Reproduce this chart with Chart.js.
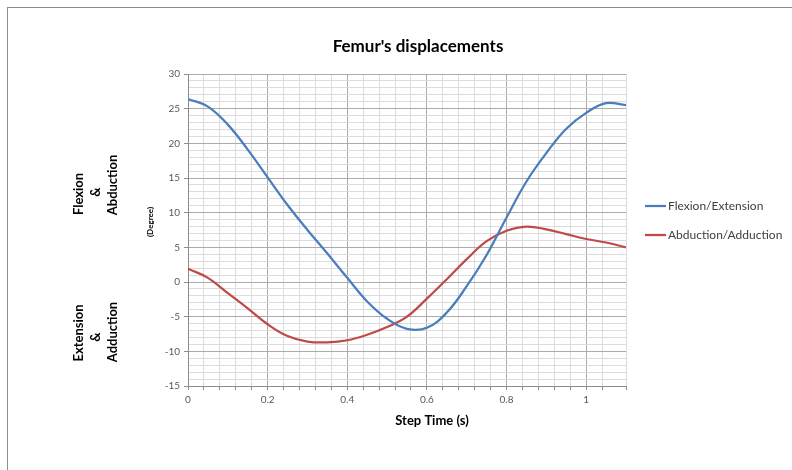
<!DOCTYPE html>
<html>
<head>
<meta charset="utf-8">
<script src="https://cdn.jsdelivr.net/npm/chart.js@4"></script>
<style>
  body { margin: 0; background: #fff; }
  #wrap { position: relative; width: 792px; height: 470px; overflow: hidden; }
  #frame { position: absolute; left: 7px; top: 7px; width: 900px; height: 600px;
           border-left: 1px solid #8c8c8c; border-top: 1px solid #8c8c8c; }
</style>
</head>
<body>
<div id="wrap">
  <div id="frame"></div>
  <canvas id="grafico" width="792" height="470"></canvas>
</div>
<script>
// step time (s)
const stepTime = [0, 0.05, 0.1, 0.15, 0.2, 0.25, 0.3, 0.35, 0.4, 0.45, 0.5, 0.55,
  0.6, 0.65, 0.7, 0.75, 0.8, 0.85, 0.9, 0.95, 1.0, 1.05, 1.1];
// degrees
const flexionExtension = [26.4, 25.3, 22.7, 19.1, 15.1, 11.1, 7.5, 4.1, 0.6, -2.8, -5.3, -6.75,
  -6.6, -4.4, -0.6, 3.9, 9.3, 14.5, 18.6, 22.1, 24.4, 25.8, 25.5];
const abductionAdduction = [1.9, 0.6, -1.6, -3.8, -6.1, -7.8, -8.6, -8.7, -8.4, -7.6, -6.5, -5.0,
  -2.4, 0.4, 3.3, 5.9, 7.4, 8.0, 7.6, 6.9, 6.2, 5.7, 5.0];

const seriesNames = ["Flexion/Extension", "Abduction/Adduction"];
const xTickLabels = ["0", "0.2", "0.4", "0.6", "0.8", "1"];
const yTickLabels = ["-15", "-10", "-5", "0", "5", "10", "15", "20", "25", "30"];

const FONT = "Lato, 'Open Sans', sans-serif";
const majorGrid = "#ababab";
const minorGrid = "#dcdcdc";

function isMult(v, step) {
  return Math.abs(v / step - Math.round(v / step)) < 1e-6;
}

// texts drawn around the plot
const textos = {
  id: "textos",
  afterDraw(chart) {
    const c = chart.ctx;
    c.save();
    c.fillStyle = "#000";
    c.textAlign = "center";
    c.textBaseline = "middle";
    c.font = "bold 17px " + FONT;
    c.fillText("Femur's displacements", 418, 47);
    c.font = "bold 13px " + FONT;
    c.fillText("Step Time (s)", 432, 421);

    const rot = (txt, x, y, font) => {
      c.save();
      c.translate(x, y);
      c.rotate(-Math.PI / 2);
      c.font = font;
      c.fillText(txt, 0, 0);
      c.restore();
    };
    const f = "bold 13px " + FONT;
    rot("Flexion", 79, 194, f);
    rot("&", 96, 192, f);
    rot("Abduction", 113, 185, f);
    rot("Extension", 79, 333, f);
    rot("&", 96, 337, f);
    rot("Adduction", 113, 332, f);
    rot("(Degree)", 150, 222, "bold 8px " + FONT);

    // legend
    const ly = [206, 235];
    chart.data.datasets.forEach((ds, i) => {
      c.strokeStyle = ds.borderColor;
      c.lineWidth = 2.25;
      c.beginPath();
      c.moveTo(645, ly[i]);
      c.lineTo(666, ly[i]);
      c.stroke();
      c.fillStyle = "#404040";
      c.textAlign = "left";
      c.font = "12px " + FONT;
      c.fillText(ds.label, 668, ly[i]);
    });
    c.restore();
  }
};

const ctx = document.getElementById("grafico").getContext("2d");
const chart = new Chart(ctx, {
  type: "line",
  data: {
    datasets: [
      {
        label: seriesNames[0],
        data: stepTime.map((t, i) => ({ x: t, y: flexionExtension[i] })),
        borderColor: "#4a7ebb",
        borderWidth: 2.25,
        pointRadius: 0,
        tension: 0.4,
        fill: false
      },
      {
        label: seriesNames[1],
        data: stepTime.map((t, i) => ({ x: t, y: abductionAdduction[i] })),
        borderColor: "#be4b48",
        borderWidth: 2.25,
        pointRadius: 0,
        tension: 0.4,
        fill: false
      }
    ]
  },
  options: {
    responsive: false,
    animation: false,
    layout: { padding: { left: 148, right: 166, top: 74, bottom: 54 } },
    plugins: {
      legend: { display: false },
      title: { display: false },
      tooltip: { enabled: false }
    },
    scales: {
      x: {
        type: "linear",
        min: 0,
        max: 1.1,
        afterFit: s => { s.height = 30; },
        border: { color: "#8c8c8c" },
        grid: {
          color: c => isMult(c.tick.value, 0.2) ? majorGrid : minorGrid,
          tickColor: "#8c8c8c",
          tickLength: 4
        },
        ticks: {
          stepSize: 0.04,
          autoSkip: false,
          maxRotation: 0,
          padding: 4,
          color: "#595959",
          font: { family: FONT, size: 10 },
          callback: v => {
            const lbl = String(Math.round(v * 100) / 100);
            return isMult(v, 0.2) && xTickLabels.includes(lbl) ? lbl : "";
          }
        }
      },
      y: {
        min: -15,
        max: 30,
        afterFit: s => { s.width = 40; },
        border: { color: "#8c8c8c" },
        grid: {
          color: c => isMult(c.tick.value, 5) ? majorGrid : minorGrid,
          tickColor: c => isMult(c.tick.value, 5) ? "#8c8c8c" : "rgba(0,0,0,0)",
          tickLength: 4
        },
        ticks: {
          stepSize: 1,
          autoSkip: false,
          padding: 4,
          color: "#595959",
          font: { family: FONT, size: 10 },
          callback: v => {
            const lbl = String(v);
            return yTickLabels.includes(lbl) ? lbl : "";
          }
        }
      }
    }
  },
  plugins: [textos]
});
</script>
</body>
</html>
